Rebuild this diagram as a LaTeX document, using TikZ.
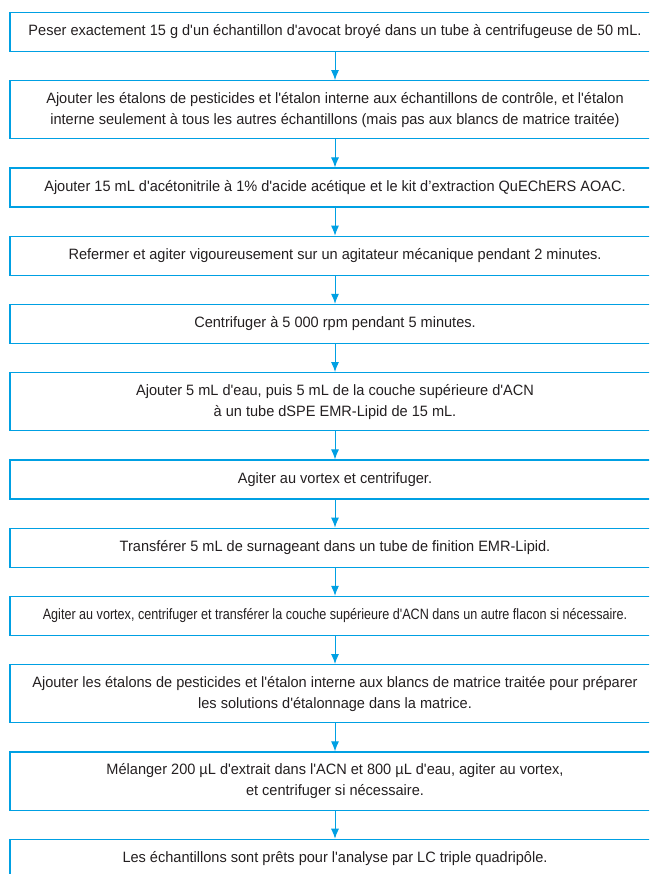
\documentclass[tikz,border=0pt]{standalone}
\usepackage{fontspec}
\setmainfont[Ligatures=TeXOff,FakeStretch=0.97]{Liberation Sans}
\usepackage{xcolor}
\usepackage{tikz}
\usetikzlibrary{positioning,arrows.meta}
\definecolor{flowblue}{RGB}{0,160,227}
\definecolor{flowtext}{RGB}{35,31,32}
\tikzset{
block/.style={
  draw=flowblue,
  line width=1.2pt,
  rectangle,
  minimum width=650pt,
  minimum height=39pt,
  inner ysep=11.5pt,
  align=center,
  text=flowtext,
  font=\fontsize{15pt}{21pt}\selectfont
  },
narrow/.style={
  font=\fontsize{15pt}{21pt}\selectfont\addfontfeature{FakeStretch=0.84}
  },
line/.style={-{Latex[length=10pt,width=8pt]},draw=flowblue,fill=flowblue,line width=1pt}
}

\begin{document}
\begin{tikzpicture}
\useasboundingbox (0,0) rectangle (649pt,-874pt);
\clip (0,0) rectangle (649pt,-874pt);
\node[block] (a) at (335pt,-32pt) {Peser exactement 15 g d'un échantillon d'avocat broyé dans un tube à centrifugeuse de 50 mL.};
\node[block, below=28pt of a] (b) {Ajouter les étalons de pesticides et l'étalon interne aux échantillons de contrôle, et l'étalon\\interne seulement à tous les autres échantillons (mais pas aux blancs de matrice traitée)};
\node[block, below=28pt of b] (c) {Ajouter 15 mL d'acétonitrile à 1\% d'acide acétique et le kit d’extraction QuEChERS AOAC.};
\node[block, below=28pt of c] (d) {Refermer et agiter vigoureusement sur un agitateur mécanique pendant 2 minutes.};
\node[block, below=28pt of d] (e) {Centrifuger à 5 000 rpm pendant 5 minutes.};
\node[block, below=28pt of e] (f) {Ajouter 5 mL d'eau, puis 5 mL de la couche supérieure d'ACN\\à un tube dSPE EMR-Lipid de 15 mL.};
\node[block, below=28pt of f] (g) {Agiter au vortex et centrifuger.};
\node[block, below=28pt of g] (h) {Transférer 5 mL de surnageant dans un tube de finition EMR-Lipid.};
\node[block, narrow, below=28pt of h] (i) {Agiter au vortex, centrifuger et transférer la couche supérieure d'ACN dans un autre flacon si nécessaire.};
\node[block, below=28pt of i] (j) {Ajouter les étalons de pesticides et l'étalon interne aux blancs de matrice traitée pour préparer\\les solutions d'étalonnage dans la matrice.};
\node[block, below=28pt of j] (k) {Mélanger 200 µL d'extrait dans l'ACN et 800 µL d'eau, agiter au vortex,\\et centrifuger si nécessaire.};
\node[block, below=28pt of k] (l) {Les échantillons sont prêts pour l'analyse par LC triple quadripôle.};
\draw[line] (a) -- (b);
\draw[line] (b) -- (c);
\draw[line] (c) -- (d);
\draw[line] (d) -- (e);
\draw[line] (e) -- (f);
\draw[line] (f) -- (g);
\draw[line] (g) -- (h);
\draw[line] (h) -- (i);
\draw[line] (i) -- (j);
\draw[line] (j) -- (k);
\draw[line] (k) -- (l);
\end{tikzpicture}
\end{document}
